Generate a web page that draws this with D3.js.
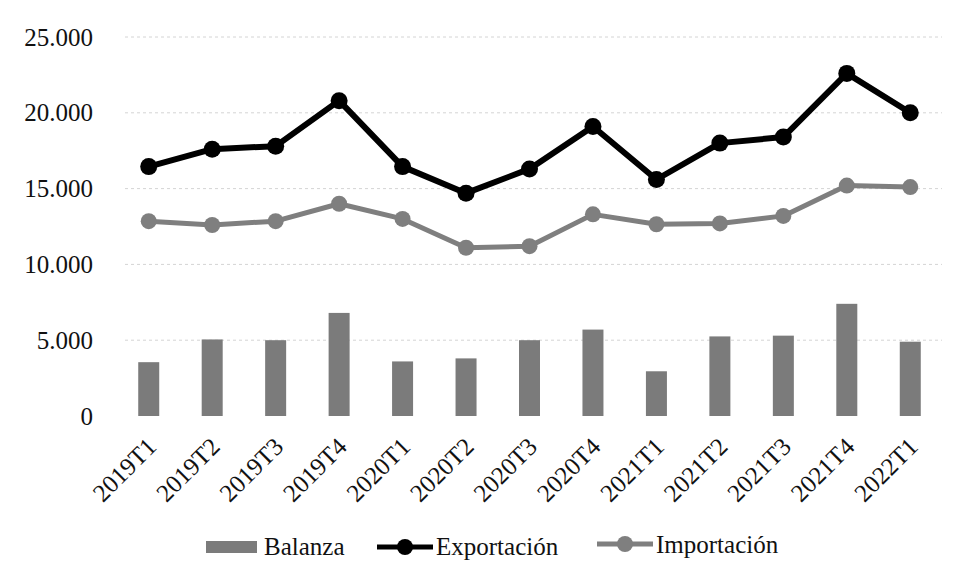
<!DOCTYPE html>
<html><head><meta charset="utf-8">
<script src="https://cdn.jsdelivr.net/npm/d3@7"></script>
<style>body{margin:0;background:#fff}svg{display:block}</style>
</head><body>
<script>
const categories = ["2019T1","2019T2","2019T3","2019T4","2020T1","2020T2","2020T3","2020T4","2021T1","2021T2","2021T3","2021T4","2022T1"];
const balanza = [3550, 5050, 5000, 6800, 3600, 3800, 5000, 5700, 2950, 5250, 5300, 7400, 4900];
const exportacion = [16450, 17600, 17800, 20800, 16450, 14700, 16300, 19100, 15600, 18000, 18400, 22600, 20000];
const importacion = [12850, 12600, 12850, 14000, 13000, 11100, 11200, 13300, 12650, 12700, 13200, 15200, 15100];
const yTicks = [0, 5000, 10000, 15000, 20000, 25000];
const seriesNames = ["Balanza", "Exportación", "Importación"];

const W = 961, H = 580;
const svg = d3.select("body").append("svg").attr("width", W).attr("height", H);
const font = "'Liberation Serif', 'DejaVu Serif', serif";
const m = {left: 117, right: 19, top: 37, bottom: 164};
const x = d3.scaleBand().domain(categories).range([m.left, W - m.right]).paddingInner(0).paddingOuter(0);
const y = d3.scaleLinear().domain([0, 25000]).range([H - m.bottom, m.top]);

const fmt = v => d3.format(",")(v).replace(/,/g, ".");

// gridlines
svg.append("g").selectAll("line").data(yTicks.filter(d => d > 0)).join("line")
  .attr("x1", m.left + 8).attr("x2", W - m.right)
  .attr("y1", d => y(d)).attr("y2", d => y(d))
  .attr("stroke", "#d4d4d4").attr("stroke-width", 1).attr("stroke-dasharray", "3,3");

// y axis
const ya = svg.append("g").attr("transform", `translate(${m.left - 24},0)`)
  .call(d3.axisLeft(y).tickValues(yTicks).tickFormat(fmt).tickSize(0).tickPadding(0));
ya.select(".domain").remove();
ya.selectAll("text").attr("font-family", font).attr("font-size", 25).attr("fill", "#111");

// bars
const bw = 21;
svg.append("g").selectAll("rect").data(balanza).join("rect")
  .attr("x", (d, i) => x(categories[i]) + x.bandwidth() / 2 - bw / 2)
  .attr("width", bw)
  .attr("y", d => y(d)).attr("height", d => y(0) - y(d))
  .attr("fill", "#7b7b7b");

// x axis
const xa = svg.append("g").attr("transform", `translate(0,${y(0)})`)
  .call(d3.axisBottom(x).tickSize(0).tickPadding(0));
xa.select(".domain").remove();
xa.selectAll("text")
  .attr("font-family", font).attr("font-size", 25).attr("fill", "#111")
  .attr("text-anchor", "end").attr("dy", "0.35em")
  .attr("transform", "translate(3,26) rotate(-45)");

// lines
const line = d3.line().x((d, i) => x(categories[i]) + x.bandwidth() / 2).y(d => y(d));
function drawSeries(data, color, sw, r) {
  svg.append("path").datum(data).attr("d", line)
    .attr("fill", "none").attr("stroke", color).attr("stroke-width", sw).attr("stroke-linejoin", "round");
  svg.append("g").selectAll("circle").data(data).join("circle")
    .attr("cx", (d, i) => x(categories[i]) + x.bandwidth() / 2)
    .attr("cy", d => y(d)).attr("r", r).attr("fill", color);
}
drawSeries(importacion, "#7f7f7f", 5, 8);
drawSeries(exportacion, "#000000", 6, 8.5);

// legend
const lg = svg.append("g").attr("font-family", font).attr("font-size", 25).attr("fill", "#111");
lg.append("rect").attr("x", 206).attr("y", 541).attr("width", 51).attr("height", 12).attr("fill", "#7b7b7b");
lg.append("text").attr("x", 264).attr("y", 555).text(seriesNames[0]);
lg.append("line").attr("x1", 377).attr("x2", 433).attr("y1", 547).attr("y2", 547).attr("stroke", "#000").attr("stroke-width", 5);
lg.append("circle").attr("cx", 405).attr("cy", 547).attr("r", 8).attr("fill", "#000");
lg.append("text").attr("x", 436).attr("y", 555).text(seriesNames[1]);
lg.append("line").attr("x1", 597).attr("x2", 653).attr("y1", 544).attr("y2", 544).attr("stroke", "#7f7f7f").attr("stroke-width", 5);
lg.append("circle").attr("cx", 625).attr("cy", 544).attr("r", 8).attr("fill", "#7f7f7f");
lg.append("text").attr("x", 656).attr("y", 553).text(seriesNames[2]);
</script>
</body></html>
